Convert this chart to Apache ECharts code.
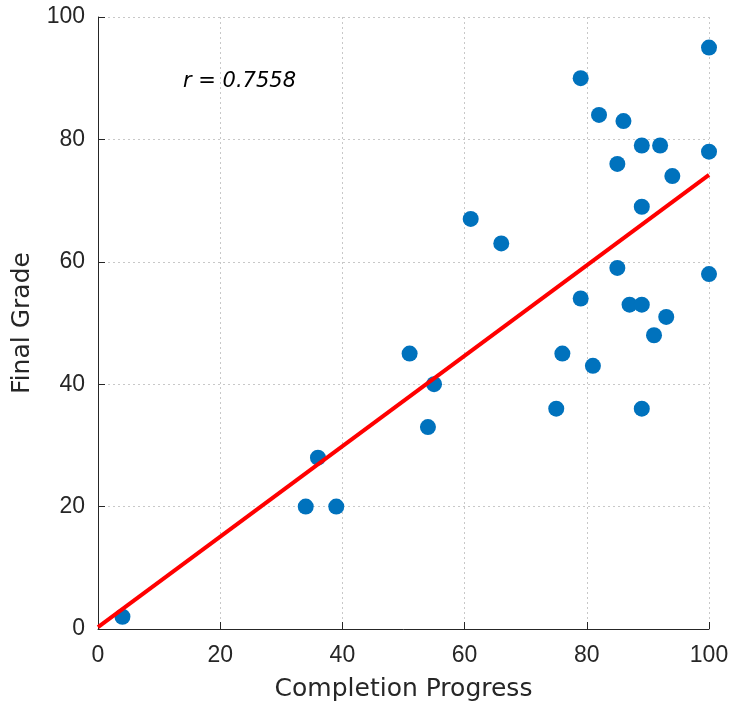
<!DOCTYPE html>
<html>
<head>
<meta charset="utf-8">
<script src="https://cdn.jsdelivr.net/npm/echarts@6/dist/echarts.min.js"></script>
<style>
html,body{margin:0;padding:0;background:#fff;}
#chart{width:735px;height:713px;}
</style>
</head>
<body>
<div id="chart"></div>
<script>
// 数据：完成进度 / 最终成绩
var progress = [4,34,36,39,51,54,55,61,66,75,76,79,79,81,82,85,85,86,87,89,89,89,89,91,92,93,94,100,100,100];
var grade    = [2,20,28,20,45,33,40,67,63,36,45,90,54,43,84,76,59,83,53,79,69,53,36,48,79,51,74,95,78,58];
// 拟合线两端
var fitX = [0,100];
var fitY = [0.3,74.2];
var rText = 'r = 0.7558';

var points = [];
for(var i=0;i<progress.length;i++){
    points.push([progress[i],grade[i]]);
}
var fitLine = [];
for(var j=0;j<fitX.length;j++){
    fitLine.push([fitX[j],fitY[j]]);
}

var chart = echarts.init(document.getElementById('chart'));
var tickFont = 'Liberation Sans';
var nameFont = 'DejaVu Sans';
var axisCommon = {
    type:'value',
    min:0,
    max:100,
    interval:20,
    nameLocation:'middle',
    nameTextStyle:{color:'#262626',fontSize:25,fontFamily:nameFont},
    axisLine:{show:true,onZero:false,lineStyle:{color:'#262626',width:1}},
    axisTick:{show:true,inside:true,length:7,lineStyle:{color:'#262626'}},
    axisLabel:{color:'#262626',fontSize:23,fontFamily:tickFont},
    splitLine:{show:true,lineStyle:{color:'#c8c8c8',type:[2,3],width:1}}
};
var option = {
    animation:false,
    backgroundColor:'#fff',
    grid:{left:98,right:26,top:17,bottom:84,containLabel:false},
    xAxis:Object.assign({},axisCommon,{
        name:'Completion Progress',
        nameGap:48,
        axisLabel:Object.assign({},axisCommon.axisLabel,{margin:15})
    }),
    yAxis:Object.assign({},axisCommon,{
        name:'Final Grade',
        nameGap:63,
        axisLabel:Object.assign({},axisCommon.axisLabel,{margin:13})
    }),
    series:[
        {
            type:'scatter',
            data:points,
            symbolSize:16,
            itemStyle:{color:'#0072BD',opacity:1},
            z:2
        },
        {
            type:'line',
            data:fitLine,
            symbol:'none',
            lineStyle:{color:'#ff0000',width:4},
            z:3
        }
    ],
    graphic:[
        {
            type:'text',
            x:183,
            y:82,
            style:{
                text:rText,
                fill:'#000',
                verticalAlign:'middle',
                font:'italic 21px "DejaVu Sans"'
            }
        }
    ]
};
chart.setOption(option);
</script>
</body>
</html>
